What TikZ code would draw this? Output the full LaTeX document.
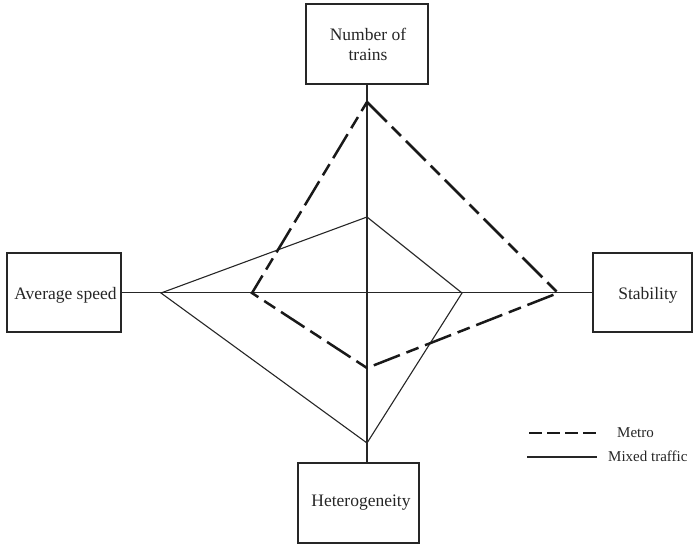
\documentclass[tikz,border=0pt]{standalone}
\usepackage{fontspec}
\setmainfont{Liberation Serif}
\begin{document}
\begin{tikzpicture}[x=1pt,y=-1pt,
  boxst/.style={draw=black!85, line width=1.1pt, rectangle, inner sep=0pt},
  lbl/.style={font=\fontsize{17.5}{20}\selectfont, text=black!85, inner sep=0pt},
  leg/.style={font=\fontsize{15}{18}\selectfont, text=black!85, inner sep=0pt, anchor=west},
  axis/.style={draw=black!85, line width=1.1pt},
  mixed/.style={draw=black!85, line width=1.1pt, line join=miter},
  metro/.style={draw=black!90, line width=2.5pt, dash pattern=on 28pt off 7pt on 13pt off 7pt}]
\useasboundingbox (0,0) rectangle (693,546);
% boxes
\node[boxst, minimum width=122pt, minimum height=80pt] (top) at (367,44) {};
\node[boxst, minimum width=114pt, minimum height=79pt] (left) at (64,292.5) {};
\node[boxst, minimum width=99pt, minimum height=79pt] (right) at (642.5,292.5) {};
\node[boxst, minimum width=121pt, minimum height=80pt] (bottom) at (358.5,503) {};
% labels
\node[lbl, align=center] (ttop) at (368,44) {Number of\\trains};
\node[lbl] (tleft) at (65.5,295) {Average speed};
\node[lbl] (tright) at (648,295) {Stability};
\node[lbl] (tbottom) at (361,503) {Heterogeneity};
% axes
\coordinate (bn) at (367,463);
\coordinate (ts) at (367,84);
\draw[axis] (ts) -- (bn);
\draw[axis] (left.east) -- (right.west);
% vertices
\coordinate (mt) at (367,102);
\coordinate (mr) at (558,293);
\coordinate (mb) at (367,368);
\coordinate (ml) at (252,293);
\coordinate (xt) at (367,217);
\coordinate (xr) at (462,293);
\coordinate (xb) at (367,443);
\coordinate (xl) at (161,293);
\draw[mixed] (xt) -- (xr) -- (xb) -- (xl) -- cycle;
\draw[metro] (mt) -- (mr) -- (mb) -- (ml) -- cycle;
% legend
\coordinate (l1a) at (529,433);
\coordinate (l1b) at (597,433);
\coordinate (l2a) at (527,457);
\coordinate (l2b) at (597,457);
\draw[metro, dash pattern=on 13pt off 5pt] (l1a) -- (l1b);
\draw[mixed] (l2a) -- (l2b);
\node[leg] (lm) at (617,433) {Metro};
\node[leg] (lx) at (608,456) {Mixed traffic};
\end{tikzpicture}
\end{document}
